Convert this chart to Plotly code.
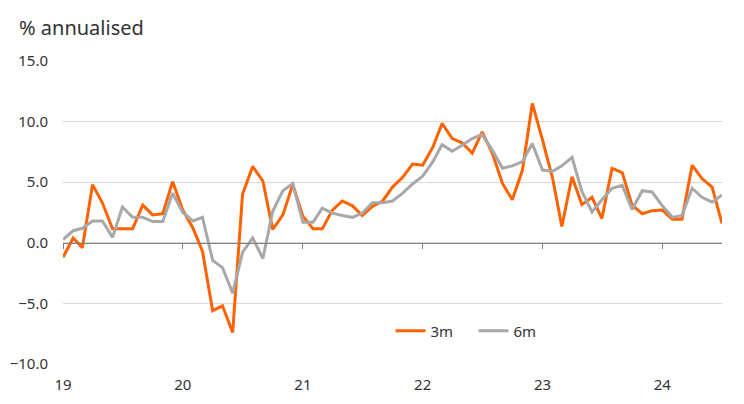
import pandas as pd
import plotly.graph_objects as go

# === Data: monthly annualised change, Jan 2019 - Jul 2024 ===
months = pd.date_range("2019-01-01", "2024-07-01", freq="MS")

m3 = [-1.2, 0.4, -0.4, 4.8, 3.3, 1.15, 1.15, 1.15, 3.1, 2.3, 2.4, 5.05,
      2.7, 1.2, -0.7, -5.6, -5.2, -7.4, 4.0, 6.3, 5.1, 1.1, 2.3, 4.8,
      2.2, 1.15, 1.15, 2.7, 3.45, 3.05, 2.25, 3.0, 3.45, 4.6, 5.4, 6.5,
      6.4, 7.9, 9.85, 8.6, 8.25, 7.4, 9.15, 7.4, 4.9, 3.55, 6.0, 11.5,
      8.5, 5.3, 1.35, 5.45, 3.15, 3.75, 2.0, 6.15, 5.8, 3.1, 2.4, 2.65,
      2.7, 1.95, 1.95, 6.4, 5.3, 4.6, 1.6]

m6 = [0.27, 1.0, 1.2, 1.8, 1.8, 0.45, 2.95, 2.1, 2.1, 1.75, 1.75, 4.1,
      2.5, 1.8, 2.1, -1.45, -2.05, -4.15, -0.8, 0.4, -1.3, 2.6, 4.3, 4.9,
      1.7, 1.7, 2.85, 2.45, 2.25, 2.1, 2.45, 3.3, 3.3, 3.45, 4.1, 4.85,
      5.5, 6.7, 8.1, 7.55, 8.05, 8.6, 8.95, 7.65, 6.15, 6.35, 6.7, 8.2,
      6.0, 5.9, 6.35, 7.05, 4.25, 2.55, 3.55, 4.5, 4.75, 2.75, 4.3, 4.2,
      3.05, 2.1, 2.25, 4.5, 3.75, 3.35, 3.95]

year_ticks = ["2019-01-01", "2020-01-01", "2021-01-01", "2022-01-01", "2023-01-01", "2024-01-01"]
year_labels = ["19", "20", "21", "22", "23", "24"]
y_ticks = [-10, -5, 0, 5, 10, 15]

ORANGE = "#FF6200"
GREY = "#A8A8A8"
TEXT = "#333333"
FONT = "Noto Sans"

fig = go.Figure()
fig.add_trace(go.Scatter(x=months, y=m3, mode="lines", name="3m",
                         line=dict(color=ORANGE, width=3)))
fig.add_trace(go.Scatter(x=months, y=m6, mode="lines", name="6m",
                         line=dict(color=GREY, width=3)))

# invisible trace on xaxis2 so the zero-line axis with ticks gets drawn
fig.add_trace(go.Scatter(x=months, y=m3, xaxis="x2", mode="lines",
                         line=dict(width=0), hoverinfo="skip", showlegend=False))

# page body adds an 8px offset, margins are trimmed to compensate
fig.update_layout(
    width=744, height=404,
    margin=dict(l=55, r=30, t=53, b=48, autoexpand=False),
    paper_bgcolor="white", plot_bgcolor="white",
    font=dict(family=FONT, size=15, color=TEXT),
    showlegend=True,
    legend=dict(orientation="h", x=0.497, y=0.109, xanchor="left", yanchor="middle",
                font=dict(size=15, color=TEXT), bgcolor="rgba(0,0,0,0)",
                entrywidth=38, entrywidthmode="pixels"),
    xaxis=dict(
        range=["2019-01-01", "2024-07-01"],
        tickvals=year_ticks, ticktext=year_labels,
        showgrid=False, zeroline=False, showline=False, ticks="",
        ticklabelstandoff=10, tickfont=dict(size=15), automargin=False,
    ),
    xaxis2=dict(
        matches="x", overlaying="x", anchor="free", position=0.4,
        tickvals=year_ticks, showticklabels=False,
        showgrid=False, zeroline=False, showline=True, linecolor="#7f7f7f", linewidth=1,
        ticks="outside", ticklen=5, tickcolor="#7f7f7f", automargin=False,
    ),
    yaxis=dict(
        range=[-10, 15], tickvals=y_ticks, tickformat=".1f",
        showgrid=True, gridcolor="#d9d9d9", gridwidth=1,
        zeroline=False, showline=False, ticks="",
        ticklabelstandoff=14, tickfont=dict(size=15), automargin=False,
    ),
    annotations=[dict(text="% annualised", xref="paper", yref="paper",
                      x=-0.0698, y=1.109, xanchor="left", yanchor="middle",
                      showarrow=False, font=dict(size=20, color=TEXT))],
)

fig.write_html("out.html")
